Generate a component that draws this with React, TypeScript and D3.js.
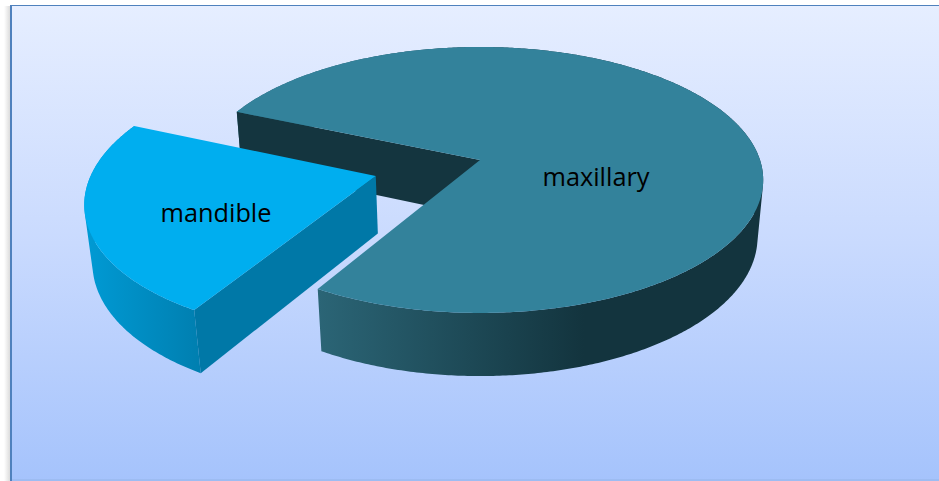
import React from "react";
import * as d3 from "d3";

const categories = ["maxillary", "mandible"];
const shares = [77, 23];
const labelAnchors: [number, number][] = [[596, 186], [216, 222]];

const W = 939;
const H = 481;
const TAU = Math.PI * 2;

// Perspective camera for the disc: u/v lie in the pie's plane, z runs down its thickness.
const cx = 480, cy = 160, a = 280, b = 130, k = 0.15, zShrink = 0.02, thickness = 58;
const explode = 0.385;

function project(u: number, v: number, z: number): [number, number] {
  const d = 1 - k * v + zShrink * z;
  return [cx + (a * u) / d, cy + (b * v + thickness * z) / d];
}

const rimAt = (angle: number, ox: number, oy: number, z: number) =>
  project(ox + Math.sin(angle), oy - Math.cos(angle), z);

const firstAngle = (293.1 / 360) * TAU;
const pie = d3.pie<number>().sort(null).startAngle(firstAngle).endAngle(firstAngle + TAU);
const arcs = pie(shares);
const line = d3.line();

function samples(start: number, end: number) {
  const n = Math.ceil(Math.abs(end - start) / 0.01);
  return d3.range(n + 1).map((i) => start + ((end - start) * i) / n);
}

function topFace(start: number, end: number, ox: number, oy: number) {
  return (
    line([project(ox, oy, 0), ...samples(start, end).map((t) => rimAt(t, ox, oy, 0))]) + "Z"
  );
}

// The rim's side is swept as one quad per step, all wound alike, so its silhouette
// stays filled where the top and bottom rims cross each other.
function outerWall(start: number, end: number, ox: number, oy: number) {
  const ts = samples(start, end);
  return d3
    .pairs(ts)
    .map(([t0, t1]) => {
      const quad: [number, number][] = [
        rimAt(t0, ox, oy, 0),
        rimAt(t1, ox, oy, 0),
        rimAt(t1, ox, oy, 1),
        rimAt(t0, ox, oy, 1),
      ];
      if (d3.polygonArea(quad) < 0) quad.reverse();
      return line(quad) + "Z";
    })
    .join("");
}

function cutWall(angle: number, ox: number, oy: number) {
  return (
    line([
      project(ox, oy, 0),
      rimAt(angle, ox, oy, 0),
      rimAt(angle, ox, oy, 1),
      project(ox, oy, 1),
    ]) + "Z"
  );
}

const bigSlice = arcs[0];
const smallSlice = arcs[1];
const mid = (smallSlice.startAngle + smallSlice.endAngle) / 2;
const offU = explode * Math.sin(mid);
const offV = -explode * Math.cos(mid);

export default function App() {
  return (
    <svg
      width={W}
      height={H}
      viewBox={`0 0 ${W} ${H}`}
      style={{ position: "absolute", left: 0, top: 0, display: "block" }}
    >
      <defs>
        <linearGradient id="bg" x1="0" y1="0" x2="0" y2="1">
          <stop offset="0" stopColor="#e6eeff" />
          <stop offset="0.5" stopColor="#c9dafe" />
          <stop offset="1" stopColor="#a5c3fc" />
        </linearGradient>
        <linearGradient id="edgeShade" x1="0" y1="0" x2="1" y2="0">
          <stop offset="0" stopColor="#ffffff" />
          <stop offset="1" stopColor="#dcdcdc" />
        </linearGradient>
        <linearGradient id="bigWall" gradientUnits="userSpaceOnUse" x1="318" y1="0" x2="584" y2="0">
          <stop offset="0" stopColor="#2b6576" />
          <stop offset="1" stopColor="#13343e" />
        </linearGradient>
        <linearGradient id="smallWall" gradientUnits="userSpaceOnUse" x1="86" y1="0" x2="200" y2="0">
          <stop offset="0" stopColor="#009ad4" />
          <stop offset="1" stopColor="#007fb0" />
        </linearGradient>
      </defs>

      <rect width={W} height={H} fill="#ffffff" />
      <rect x={4} y={6} width={6} height={H - 6} fill="url(#edgeShade)" />
      <rect x={11} y={5} width={W - 11} height={H - 5} fill="url(#bg)" />
      <rect x={10} y={5} width={2} height={H - 5} fill="#4f81bd" />
      <rect x={10} y={5} width={W - 10} height={1} fill="#4f81bd" />
      <rect x={12} y={479} width={W - 12} height={2} fill="#9dbcf2" />

      {/* Large slice */}
      <path d={outerWall(bigSlice.startAngle, bigSlice.endAngle, 0, 0)} fill="url(#bigWall)" />
      <path d={cutWall(bigSlice.startAngle, 0, 0)} fill="#14353f" />
      <path d={topFace(bigSlice.startAngle, bigSlice.endAngle, 0, 0)} fill="#33829b" />

      {/* Pulled-out slice */}
      <path d={outerWall(smallSlice.startAngle, smallSlice.endAngle, offU, offV)} fill="url(#smallWall)" />
      <path d={cutWall(smallSlice.startAngle, offU, offV)} fill="#0078a7" />
      <path d={topFace(smallSlice.startAngle, smallSlice.endAngle, offU, offV)} fill="#00aeef" />

      {categories.map((name, i) => (
        <text
          key={name}
          x={labelAnchors[i][0]}
          y={labelAnchors[i][1]}
          textAnchor="middle"
          fontFamily="'Open Sans', sans-serif"
          fontSize={25.3}
          fill="#000000"
        >
          {name}
        </text>
      ))}
    </svg>
  );
}
